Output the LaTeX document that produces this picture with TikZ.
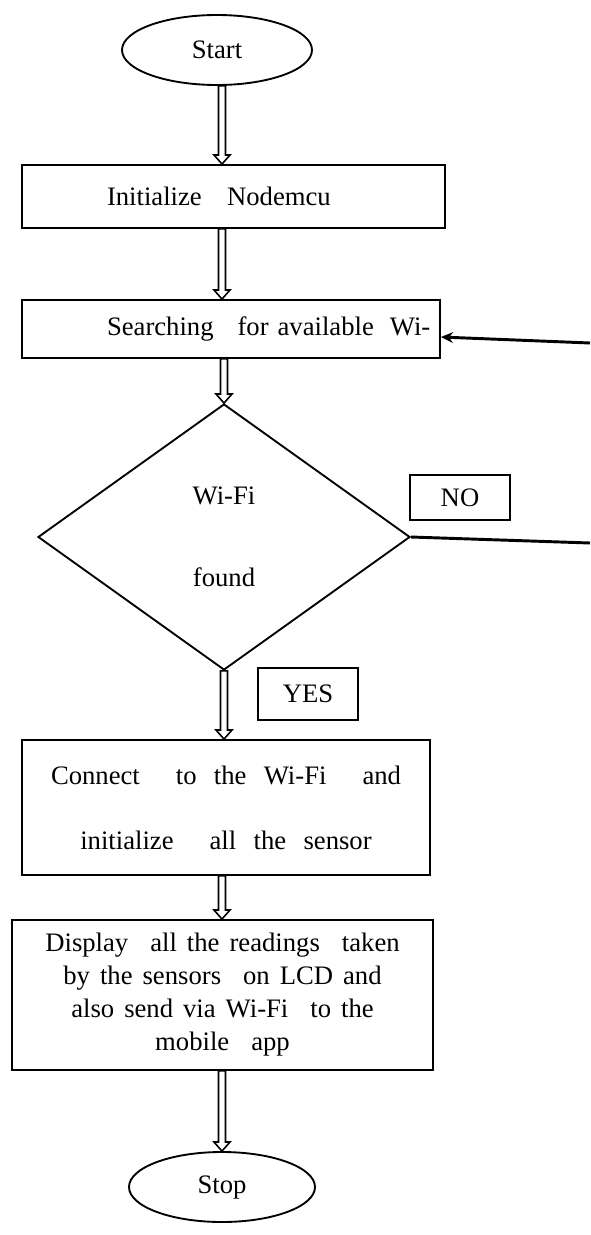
\documentclass[tikz,border=0pt]{standalone}
\usepackage{fontspec}
\setmainfont{Liberation Serif}
\usetikzlibrary{shapes,arrows.meta,calc}

% hollow block arrow, straight down from #1 to #2
\newcommand\flowarrow[2]{%
	\draw[blockarr] let \p1=(#1), \p2=(#2) in
		(\x2-2.6pt,\y1) -- (\x2-2.6pt,\y2+6.8pt) -- (\x2-6pt,\y2+6.8pt) -- (\x2,\y2)
		-- (\x2+6pt,\y2+6.8pt) -- (\x2+2.6pt,\y2+6.8pt) -- (\x2+2.6pt,\y1) -- cycle;}
% text faces and wide word gap
\newcommand\flowfont{\fontsize{20}{24.75}\selectfont\spaceskip=7.5pt\relax}
\newcommand\widefont{\fontsize{20}{24.75}\selectfont\spaceskip=13pt\relax}
\newcommand\gap{\hspace{16.5pt}}

\begin{document}
\begin{tikzpicture}[x=0.75pt, y=-0.75pt]
	\tikzstyle{every node} = [font=\flowfont, line width=1.4pt]
	\tikzstyle{term} = [draw, ellipse, minimum width=142.5pt, minimum height=52.5pt, inner sep=0]
	\tikzstyle{proc} = [draw, rectangle, inner sep=0, align=center]
	\tikzstyle{tag} = [draw, rectangle, minimum width=75pt, inner sep=0]
	\tikzstyle{blockarr} = [line width=1.2pt, fill=white]
	\tikzstyle{loopline} = [line width=2.2pt]

	\useasboundingbox (0,0) rectangle (590,1235);

	\node[term] (start) at (217,50) {Start};
	\node[proc, minimum width=317.25pt, minimum height=47.25pt, text width=317.25pt, align=left] (init) at (233.5,196.5)
		{\hspace*{63.75pt}Initialize\hspace{19pt}Nodemcu};
	\node[proc, minimum width=313.5pt, minimum height=43.5pt, text width=313.5pt, align=left] (search) at (231,329)
		{\hspace*{63.75pt}\mbox{Searching\hspace{18pt}for available\hspace{12pt}Wi-}};
	\node[draw, diamond, minimum width=279pt, minimum height=199.5pt, inner sep=0, align=center] (wifi) at (224,537)
		{Wi-Fi\\[36.75pt]found};
	\node[tag, minimum height=33.75pt] (no) at (460,497.5) {NO};
	\node[tag, minimum height=39pt] (yes) at (308,694) {YES};
	\node[proc, minimum width=306pt, minimum height=101.25pt, font=\widefont] (connect) at (226,807.5)
		{Connect\hspace{27pt}to the Wi-Fi\hspace{27pt}and\\[24pt]initialize\hspace{27pt}all the sensor};
	\node[proc, minimum width=315.75pt, minimum height=112.5pt] (display) at (222.5,995)
		{Display\gap all the readings\gap taken\\by the sensors\gap on LCD and\\also send via Wi-Fi\gap to the\\mobile\gap app};
	\node[term, minimum width=139.5pt] (stop) at (222,1187) {Stop};

	\coordinate (back) at (590,343);
	\coordinate (away) at (590,543);

	\flowarrow{start.south -| 222,0}{init.north -| 222,0}
	\flowarrow{init.south -| 222,0}{search.north -| 222,0}
	\flowarrow{search.south -| 222,0}{wifi.north}
	\flowarrow{wifi.south}{connect.north -| wifi.south}
	\flowarrow{connect.south -| 222,0}{display.north -| 222,0}
	\flowarrow{display.south -| 222,0}{stop.north}

	\draw[loopline] (wifi.east) -- (away);
	\draw[loopline, -{Stealth[length=9pt, width=8pt]}] (back) -- ([yshift=-6pt]search.east);

\end{tikzpicture}
\end{document}
